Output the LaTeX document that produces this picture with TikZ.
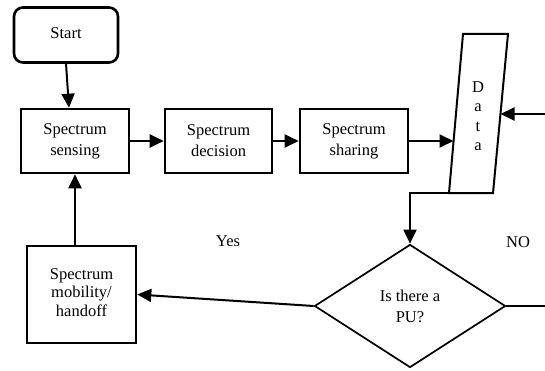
\documentclass[tikz,border=0pt]{standalone}
\usepackage{fontspec}
\setmainfont{Liberation Serif}
\usetikzlibrary{shapes.geometric,arrows.meta}

\begin{document}
\begin{tikzpicture}[x=1pt, y=1pt,
	txt/.style = {font=\fontsize{16.5}{21}\selectfont, align=center},
	box/.style = {txt, draw, line width=2.6pt, inner sep=0pt},
	arr/.style = {line width=2pt, -{Triangle[length=14pt, width=13pt]}}]
	\useasboundingbox (0,0) rectangle (545,370);
	
	% blocks
	\node[box, rounded corners=9pt, minimum width=104pt, minimum height=55pt] (start) at (66,335) {\raisebox{4pt}{Start}};
	\node[box, minimum width=108pt, minimum height=64pt] (sensing) at (75,229) {Spectrum\\sensing};
	\node[box, minimum width=107pt, minimum height=64pt] (decision) at (218.5,229) {Spectrum\\decision};
	\node[box, minimum width=108pt, minimum height=64pt] (sharing) at (354,229) {Spectrum\\sharing};
	\node[box, minimum width=109pt, minimum height=97pt] (mobility) at (81.5,75.5) {\raisebox{4pt}{\shortstack{Spectrum\\mobility/\\handoff}}};
	\node[txt, draw, diamond, line width=1.7pt, aspect=1.55, minimum width=191pt, minimum height=123pt, inner sep=0pt] (pu) at (410,64) {Is there a\\PU?};
	
	% data store
	\coordinate (d1) at (449,177);
	\coordinate (d2) at (493,177);
	\coordinate (d3) at (508,336);
	\coordinate (d4) at (463,336);
	\draw[line width=2pt] (d1) -- (d2) -- (d3) -- (d4) -- cycle;
	\node[txt, font=\fontsize{16.5}{19.5}\selectfont] (data) at (478,254) {D\\a\\t\\a};
	\coordinate (datain) at (453.5,229);
	\coordinate (dataeast) at (500.5,256);
	\coordinate (feed) at (545,256);
	\coordinate (noend) at (545,64);
	
	% labels
	\node[txt] (yes) at (228,129) {Yes};
	\node[txt] (no) at (518,128) {NO};
	
	% connectors
	\draw[arr] (start.south) -- ([xshift=-6pt]sensing.north);
	\draw[arr] (sensing.east) -- (decision.west);
	\draw[arr] (decision.east) -- (sharing.west);
	\draw[arr] (sharing.east) -- (datain);
	\draw[arr] (feed) -- (dataeast);
	\draw[arr] (d1) -| (pu.north);
	\draw[line width=1.7pt] (pu.east) -- (noend);
	\draw[arr] (pu.west) -- (mobility.east);
	\draw[arr] (mobility.north -| sensing.south) -- (sensing.south);
\end{tikzpicture}
\end{document}
